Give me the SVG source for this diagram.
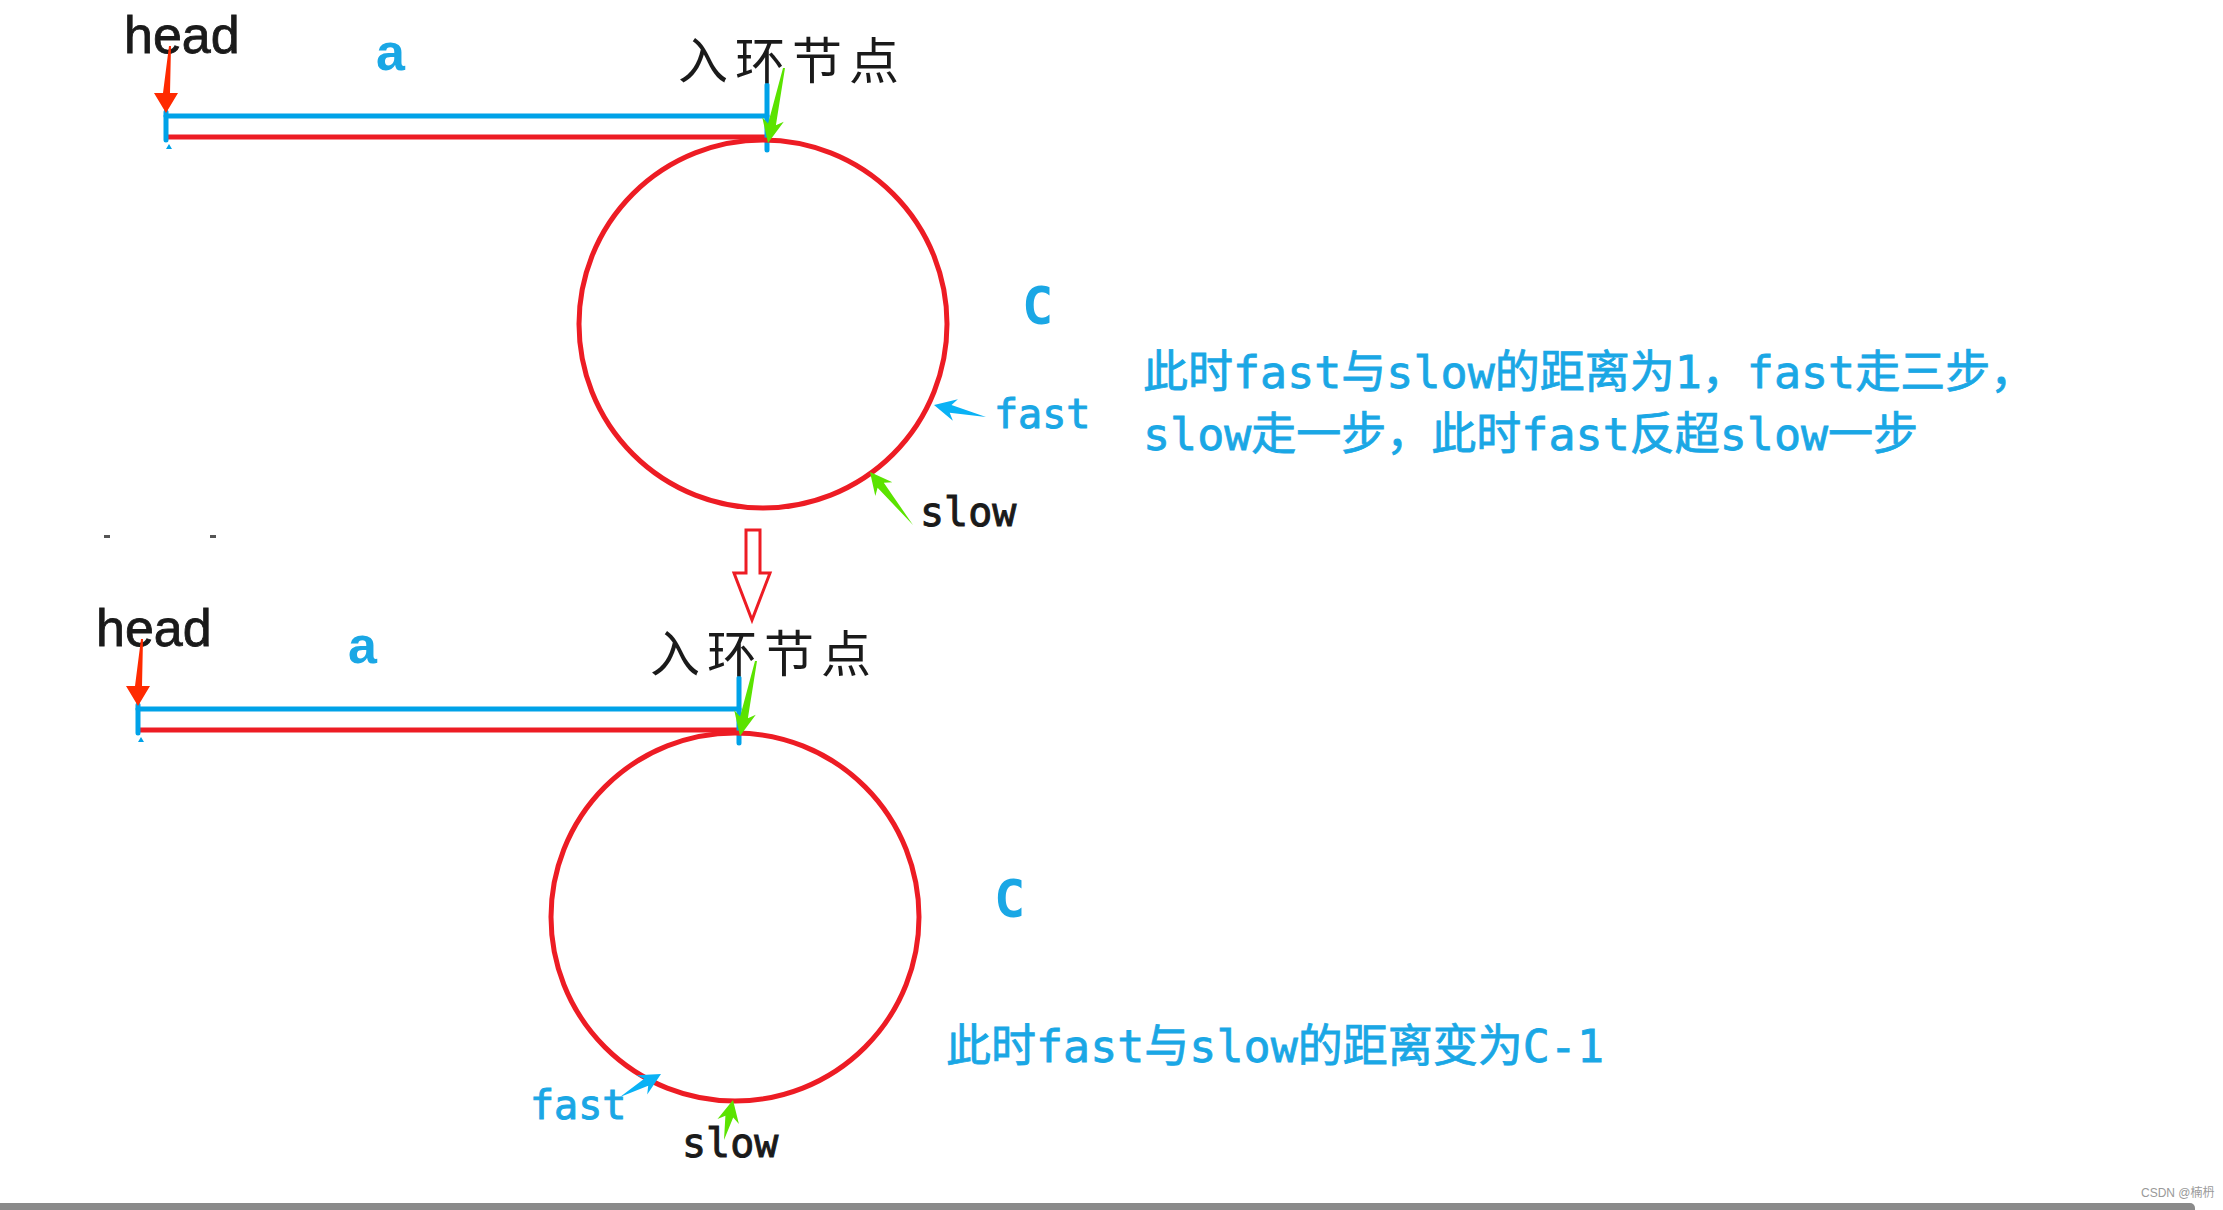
<svg xmlns="http://www.w3.org/2000/svg" width="2223" height="1210" viewBox="0 0 2223 1210">
<style>
.head{font-family:"Liberation Sans",Arial,sans-serif;font-size:52px;fill:#1a1a1a;stroke:#1a1a1a;stroke-width:0.8px}
.alb{font-family:"Liberation Sans",Arial,sans-serif;font-weight:bold;font-size:52px;fill:#1AA7E5}
.node{font-family:"Noto Sans CJK SC",sans-serif;font-size:50px;fill:#1a1a1a;letter-spacing:7px}
.clb{font-family:"DejaVu Sans Mono",monospace;font-weight:bold;font-size:52px;fill:#1AA7E5}
.pb{font-family:"DejaVu Sans Mono",monospace;font-size:40px;fill:#1AA7E5;stroke:#1AA7E5;stroke-width:1px}
.pk{font-family:"DejaVu Sans Mono",monospace;font-size:40px;fill:#1a1a1a;stroke:#1a1a1a;stroke-width:1px}
.note{font-family:"DejaVu Sans Mono","Noto Sans CJK SC",monospace;font-size:45px;fill:#1AA7E5;stroke:#1AA7E5;stroke-width:0.8px}
.ring{fill:none;stroke:#ED1C24;stroke-width:5}
.redl{stroke:#ED1C24;stroke-width:5;fill:none}
.bluel{stroke:#00A2E8;stroke-width:5;fill:none;stroke-linecap:round}
.harrow{fill:#FF2A00}
.garrow{fill:#5BE300}
.barrow{fill:#0AB2F5}
</style>
<rect width="2223" height="1210" fill="#ffffff"/>

<!-- top diagram -->
<g id="top-list">
  <line class="redl" x1="168" y1="137" x2="767" y2="137"/>
  <line class="bluel" x1="166" y1="116" x2="767" y2="116"/>
  <line class="bluel" x1="166" y1="112" x2="166" y2="140" stroke-width="6"/>
  <line class="bluel" x1="767" y1="85" x2="767" y2="150"/>
  <polygon points="166,149 172,149 169,144" fill="#00A2E8"/>
</g>
<g id="top-ring"><circle class="ring" cx="763" cy="324" r="184"/></g>
<g id="top-head"><text class="head" x="124" y="53">head</text></g>
<g id="top-a"><text class="alb" x="376" y="70">a</text></g>
<g id="top-entry"><text class="node" x="678" y="79">入环节点</text></g>
<g id="top-c"><text class="clb" x="1022" y="324">C</text></g>
<g id="top-fast"><text class="pb" x="994" y="428">fast</text></g>
<g id="top-slow"><text class="pk" x="920" y="526">slow</text></g>
<g id="top-note">
  <text class="note" x="1143" y="388">此时fast与slow的距离为1，fast走三步，</text>
  <text class="note" x="1143" y="450">slow走一步，此时fast反超slow一步</text>
</g>

<!-- bottom diagram -->
<g id="bottom-list">
  <line class="redl" x1="140" y1="730" x2="739" y2="730"/>
  <line class="bluel" x1="138" y1="709" x2="739" y2="709"/>
  <line class="bluel" x1="138" y1="705" x2="138" y2="733" stroke-width="6"/>
  <line class="bluel" x1="739" y1="678" x2="739" y2="743"/>
  <polygon points="138,742 144,742 141,737" fill="#00A2E8"/>
</g>
<g id="bottom-ring"><circle class="ring" cx="735" cy="917" r="184"/></g>
<g id="bottom-head"><text class="head" x="96" y="646">head</text></g>
<g id="bottom-a"><text class="alb" x="348" y="663">a</text></g>
<g id="bottom-entry"><text class="node" x="650" y="672">入环节点</text></g>
<g id="bottom-c"><text class="clb" x="994" y="917">C</text></g>
<g id="bottom-fast"><text class="pb" x="530" y="1119">fast</text></g>
<g id="bottom-slow"><text class="pk" x="682" y="1157">slow</text></g>
<g id="bottom-note"><text class="note" x="946" y="1062">此时fast与slow的距离变为C-1</text></g>

<!-- connectors / pointer arrows -->
<g id="connectors">
  <polygon class="harrow" points="169,46 171,46 170,93 178,93 166,113 154,93 163,93"/>
  <polygon class="garrow" points="785,68 775.9,125.2 783.8,121.8 768,143 762.2,117.2 768.1,123.6 783,68"/>
  <polygon class="barrow" points="986,417 951.5,404.9 957.9,399.2 934,405 952.9,420.7 949.7,412.7"/>
  <polygon class="garrow" points="913,525 883.8,482.7 892.4,482.2 870,472 875.3,496 877.6,487.7"/>
  <polygon points="746,530 760,530 760,573 770,573 752,620 734,573 746,573" fill="#ffffff" stroke="#ED1C24" stroke-width="3" stroke-linejoin="miter"/>
  <polygon class="harrow" points="141,639 143,639 142,686 150,686 138,706 126,686 135,686"/>
  <polygon class="garrow" points="757,661 747.9,718.2 755.8,714.8 740,736 734.2,710.2 740.1,716.6 755,661"/>
  <polygon class="barrow" points="620,1097 648.2,1085.8 647.2,1094.4 661,1074 636.4,1075.2 644.2,1078.8"/>
  <polygon class="garrow" points="724,1140 733.2,1117.5 738.9,1123.9 733,1100 717.5,1119.1 725.4,1115.7"/>
</g>

<!-- stray marks -->
<rect x="104" y="535" width="6" height="3" fill="#555"/>
<rect x="210" y="535" width="6" height="3" fill="#555"/>

<!-- footer -->
<rect x="-6" y="1203" width="2201" height="12" rx="5" fill="#8a8a8a"/>
<text x="2141" y="1197" font-family="Liberation Sans, 'Noto Sans CJK SC', sans-serif" font-size="12" fill="#999999">CSDN @楠枬</text>
</svg>
